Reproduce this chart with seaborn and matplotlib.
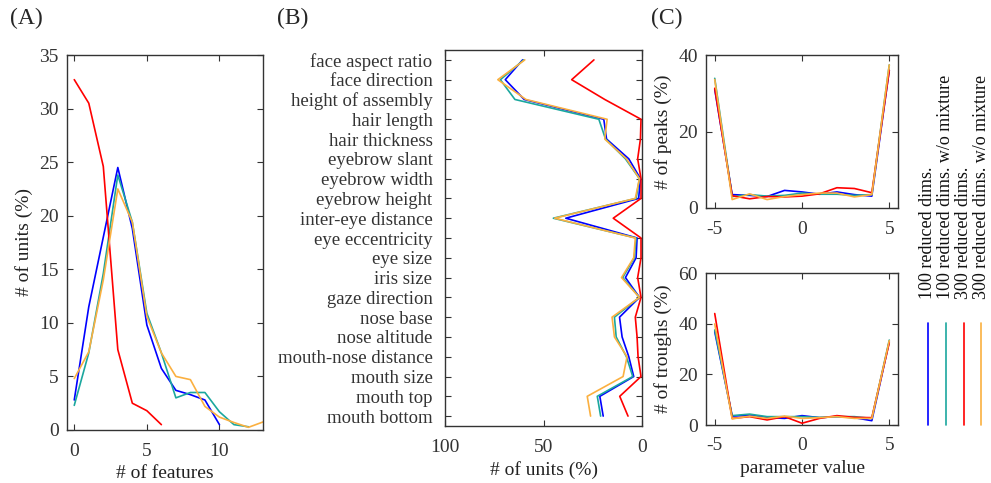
import numpy as np
import pandas as pd
import matplotlib
matplotlib.use("Agg")
import matplotlib.pyplot as plt
import seaborn as sns
from matplotlib.lines import Line2D

# ---------------- data ----------------
series_names = ["100 reduced dims.", "100 reduced dims. w/o mixture",
                "300 reduced dims.", "300 reduced dims. w/o mixture"]
colors = ["#0000FF", "#1BA79E", "#FF0000", "#FBB040"]

# Panel A: histogram of number of features
featA_blue = [2.8, 11.5, 18.0, 24.5, 18.8, 9.8, 5.75, 3.7, 3.3, 2.8, 0.5]
featA_teal = [2.3, 7.2, 14.6, 23.8, 19.4, 10.9, 7.2, 3.0, 3.5, 3.5, 1.7, 0.5, 0.3]
featA_red = [32.7, 30.5, 24.6, 7.5, 2.5, 1.8, 0.5]
featA_orange = [4.8, 7.3, 14.0, 22.5, 19.4, 10.6, 7.2, 5.0, 4.7, 2.2, 1.2, 0.7, 0.25, 0.75]

# Panel B: units per facial feature
features = ["face aspect ratio", "face direction", "height of assembly", "hair length",
            "hair thickness", "eyebrow slant", "eyebrow width", "eyebrow height",
            "inter-eye distance", "eye eccentricity", "eye size", "iris size",
            "gaze direction", "nose base", "nose altitude", "mouth-nose distance",
            "mouth size", "mouth top", "mouth bottom"]
unitsB_blue = [60.6, 69.4, 59.8, 19.4, 18.0, 6.7, 0.8, 1.7, 38.7, 2.5, 3.0, 8.4, 1.3,
               11.4, 10.1, 6.7, 4.2, 21.4, 19.7]
unitsB_teal = [60.0, 71.9, 64.5, 21.9, 18.5, 8.4, 1.3, 3.0, 45.0, 3.0, 3.9, 9.8, 1.3,
               14.0, 13.1, 7.9, 4.7, 22.7, 21.0]
unitsB_red = [24.4, 35.7, 18.9, 0.5, 0.8, 2.2, 0.5, 0.5, 14.6, 0.5, 0.5, 2.2, 0.5,
              3.4, 2.5, 2.0, 0.5, 11.3, 7.1]
unitsB_orange = [59.5, 73.2, 58.9, 17.7, 18.9, 7.9, 1.3, 3.4, 44.3, 3.4, 4.2, 10.4, 1.3,
                 15.2, 14.0, 7.6, 9.6, 27.8, 26.1]

# Panel C: peaks / troughs by parameter value
param_values = [-5, -4, -3, -2, -1, 0, 1, 2, 3, 4, 5]
peaks_blue = [31.0, 3.5, 3.3, 3.0, 4.6, 4.2, 3.6, 4.2, 3.5, 3.1, 36.0]
peaks_teal = [33.9, 3.0, 3.5, 3.1, 3.3, 3.9, 3.6, 3.6, 3.3, 3.5, 37.4]
peaks_red = [31.3, 3.2, 2.4, 3.0, 2.9, 3.1, 3.7, 5.3, 5.1, 4.0, 36.0]
peaks_orange = [33.6, 2.2, 3.7, 2.2, 3.0, 3.5, 3.9, 3.9, 2.9, 3.5, 37.4]

troughs_blue = [36.8, 3.5, 3.9, 3.0, 2.6, 3.7, 2.9, 3.3, 2.9, 1.7, 32.9]
troughs_teal = [37.5, 3.7, 4.3, 3.3, 3.3, 3.3, 3.0, 3.3, 3.3, 2.6, 33.5]
troughs_red = [44.0, 2.6, 3.3, 2.0, 3.3, 0.7, 2.6, 3.7, 3.0, 2.9, 32.5]
troughs_orange = [39.9, 2.4, 3.5, 2.6, 3.5, 2.6, 2.9, 3.3, 2.6, 2.6, 33.3]

# ---------------- style ----------------
sns.set_theme(style="ticks")
plt.rcParams["font.family"] = ["Liberation Serif", "DejaVu Serif"]
plt.rcParams["font.size"] = 14
plt.rcParams["xtick.direction"] = "in"
plt.rcParams["ytick.direction"] = "in"
plt.rcParams["axes.edgecolor"] = "#333333"
plt.rcParams["xtick.color"] = "#333333"
plt.rcParams["ytick.color"] = "#333333"
plt.rcParams["axes.labelcolor"] = "#222222"
plt.rcParams["axes.unicode_minus"] = False

W, H = 991, 483
fig = plt.figure(figsize=(W / 100, H / 100), dpi=100)


def px_axes(left, top, right, bottom):
    return fig.add_axes([left / W, (H - bottom) / H, (right - left) / W, (bottom - top) / H])


def box(ax):
    for s in ax.spines.values():
        s.set_visible(True)
        s.set_linewidth(1.0)
    ax.tick_params(top=True, right=True, labelsize=14, length=4, width=0.8)
    ax.tick_params(axis="x", pad=9)
    ax.tick_params(axis="y", pad=6)
    ax.xaxis.labelpad = 4


LW = 1.2
FS = 14

# ---------------- panel A ----------------
axA = px_axes(67, 55, 263, 430)
for vals, c in zip([featA_blue, featA_teal, featA_red, featA_orange], colors):
    df = pd.DataFrame({"x": np.arange(len(vals)), "y": vals})
    sns.lineplot(data=df, x="x", y="y", ax=axA, color=c, linewidth=LW)
axA.set_xlim(-0.5, 13)
axA.set_ylim(0, 35)
axA.set_xticks([0, 5, 10])
axA.set_yticks(np.arange(0, 36, 5))
axA.set_xlabel("# of features", fontsize=FS)
axA.set_ylabel("# of units (%)", fontsize=FS)
box(axA)

# ---------------- panel B ----------------
axB = px_axes(445, 50, 642, 426)
ypos = np.arange(len(features))
for vals, c in zip([unitsB_blue, unitsB_teal, unitsB_red, unitsB_orange], colors):
    df = pd.DataFrame({"x": vals, "y": ypos})
    sns.lineplot(data=df, x="x", y="y", ax=axB, color=c, linewidth=LW, orient="y", sort=False)
axB.set_xlim(100, 0)
axB.set_ylim(len(features) - 0.5, -0.5)
axB.set_xticks([100, 50, 0])
axB.set_yticks(ypos)
axB.set_yticklabels(features, fontsize=13.5)
axB.set_xlabel("# of units (%)", fontsize=FS)
axB.set_ylabel("")
box(axB)
axB.tick_params(axis="y", pad=9, labelsize=13.5)

# ---------------- panel C ----------------
axC1 = px_axes(706, 55, 898, 208)
for vals, c in zip([peaks_blue, peaks_teal, peaks_red, peaks_orange], colors):
    df = pd.DataFrame({"x": param_values, "y": vals})
    sns.lineplot(data=df, x="x", y="y", ax=axC1, color=c, linewidth=LW)
axC1.set_xlim(-5.5, 5.5)
axC1.set_ylim(0, 40)
axC1.set_xticks([-5, 0, 5])
axC1.set_yticks([0, 20, 40])
axC1.set_xlabel("")
axC1.set_ylabel("# of peaks (%)", fontsize=FS)
box(axC1)

axC2 = px_axes(706, 273, 898, 425)
for vals, c in zip([troughs_blue, troughs_teal, troughs_red, troughs_orange], colors):
    df = pd.DataFrame({"x": param_values, "y": vals})
    sns.lineplot(data=df, x="x", y="y", ax=axC2, color=c, linewidth=LW)
axC2.set_xlim(-5.5, 5.5)
axC2.set_ylim(0, 60)
axC2.set_xticks([-5, 0, 5])
axC2.set_yticks([0, 20, 40, 60])
axC2.set_xlabel("parameter value", fontsize=FS)
axC2.set_ylabel("# of troughs (%)", fontsize=FS)
box(axC2)

# ---------------- legend (vertical) ----------------
leg_x = [928, 946, 964, 981]
for x, c, name in zip(leg_x, colors, series_names):
    fig.add_artist(Line2D([x / W, x / W], [(H - 425) / H, (H - 323) / H],
                          color=c, linewidth=1.2, transform=fig.transFigure))
    fig.text(x / W, (H - 299) / H, name, rotation=90, ha="center", va="bottom",
             fontsize=13, color="#111111")

# ---------------- panel letters ----------------
fig.text(10 / W, (H - 8) / H, "(A)", fontsize=17, va="top", ha="left")
fig.text(277 / W, (H - 8) / H, "(B)", fontsize=17, va="top", ha="left")
fig.text(651 / W, (H - 8) / H, "(C)", fontsize=17, va="top", ha="left")

fig.savefig("out.png", dpi=100)
